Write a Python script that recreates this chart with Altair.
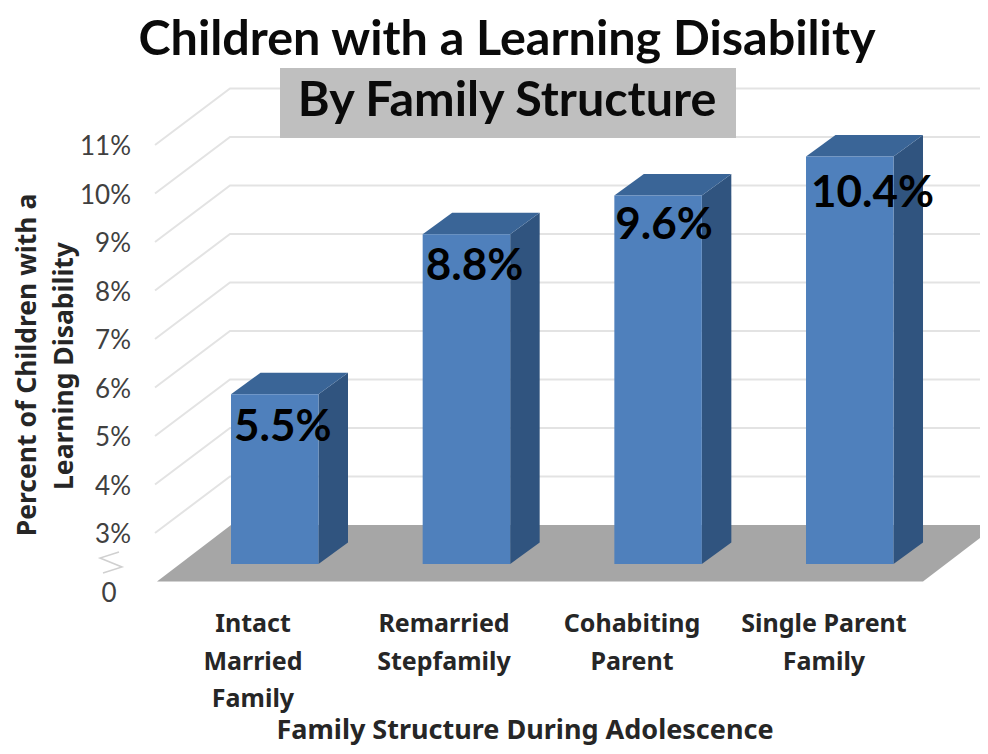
import altair as alt
import pandas as pd

# ---- chart values
categories = ["Intact\nMarried\nFamily", "Remarried\nStepfamily", "Cohabiting\nParent", "Single Parent\nFamily"]
values = [5.5, 8.8, 9.6, 10.4]
value_labels = ["5.5%", "8.8%", "9.6%", "10.4%"]
grid_values = [3, 4, 5, 6, 7, 8, 9, 10, 11]
grid_labels = ["3%", "4%", "5%", "6%", "7%", "8%", "9%", "10%", "11%"]

# ---- pseudo-3D geometry (page pixels)
M = 8
W, H = 972, 738
SLOT = 191.67
PX_PER_PCT = 48.5
FLOOR_Y = 581.5
BASE = 2.0
LABEL_DX = [3, 3, 1, 5]
LABEL_DY = [47, 46, 44, 50]


def X(px):
    return (px - M) / SLOT


def Y(px):
    return BASE + (FLOOR_Y - px) / PX_PER_PCT


xs = alt.Scale(domain=[X(M), X(M + W)], range=[0, W], nice=False, zero=False)
ys = alt.Scale(domain=[Y(M + H), Y(M)], range=[H, 0], nice=False, zero=False)
xe = alt.X("x:Q", scale=xs, axis=None)
ye = alt.Y("y:Q", scale=ys, axis=None)

WALL_FRONT, WALL_BACK, RIGHT_END = X(155), X(230), X(988)
FLOOR_DEPTH = 56.5 / PX_PER_PCT
FLOOR_DX = 74 / SLOT
BAR_LEFT = X(231)
BAR_W = 87.5 / SLOT
BAR_DX = 29.5 / SLOT
BAR_LIFT = 17.5 / PX_PER_PCT
BAR_DY = 21.5 / PX_PER_PCT

# grid lines on the side and back walls
grid_rows = []
for v in grid_values:
    grid_rows += [
        {"x": WALL_FRONT, "y": v, "g": v},
        {"x": WALL_BACK, "y": v + FLOOR_DEPTH, "g": v},
        {"x": RIGHT_END, "y": v + FLOOR_DEPTH, "g": v},
    ]
grid = alt.Chart(pd.DataFrame(grid_rows)).mark_line(color="#e3e3e3", strokeWidth=2, clip=True).encode(
    x=xe, y=ye, detail="g:N"
)

# floor
fl, fr = X(157), X(923)
floor_df = pd.DataFrame([
    {"x": fl, "y": BASE, "y2": BASE},
    {"x": fl + FLOOR_DX, "y": BASE, "y2": BASE + FLOOR_DEPTH},
    {"x": fr, "y": BASE, "y2": BASE + FLOOR_DEPTH},
    {"x": fr + FLOOR_DX, "y": BASE + FLOOR_DEPTH, "y2": BASE + FLOOR_DEPTH},
])
floor = alt.Chart(floor_df).mark_area(color="#a6a6a6", opacity=1, clip=True).encode(x=xe, y=ye, y2="y2:Q")

# bars
front_rows, side_rows, top_rows, lab_rows = [], [], [], []
for i, v in enumerate(values):
    l = BAR_LEFT + i
    r = l + BAR_W
    b = BASE + BAR_LIFT
    t = v + BAR_LIFT
    front_rows.append({"x": l, "x2": r, "y": b, "y2": t})
    side_rows += [
        {"x": r, "y": b, "y2": t, "c": i},
        {"x": r + BAR_DX, "y": b + BAR_DY, "y2": t + BAR_DY, "c": i},
    ]
    top_rows += [
        {"x": l, "y": t, "y2": t, "c": i},
        {"x": l + BAR_DX, "y": t, "y2": t + BAR_DY, "c": i},
        {"x": r, "y": t, "y2": t + BAR_DY, "c": i},
        {"x": r + BAR_DX, "y": t + BAR_DY, "y2": t + BAR_DY, "c": i},
    ]
    lab_rows.append({"x": l + LABEL_DX[i] / SLOT, "y": t - LABEL_DY[i] / PX_PER_PCT, "t": value_labels[i]})

front = alt.Chart(pd.DataFrame(front_rows)).mark_rect(color="#4f80bc").encode(
    x=xe, x2="x2:Q", y=ye, y2="y2:Q"
)
side = alt.Chart(pd.DataFrame(side_rows)).mark_area(color="#30547f", opacity=1).encode(
    x=xe, y=ye, y2="y2:Q", detail="c:N"
)
top = alt.Chart(pd.DataFrame(top_rows)).mark_area(color="#3a6597", opacity=1).encode(
    x=xe, y=ye, y2="y2:Q", detail="c:N"
)
bar_labels = alt.Chart(pd.DataFrame(lab_rows)).mark_text(
    font="Lato", fontWeight="bold", fontSize=44, color="#000000", align="left", baseline="alphabetic"
).encode(x=xe, y=ye, text="t:N")

# value-axis labels
tick_df = pd.DataFrame({"x": [X(131)] * len(grid_values), "y": grid_values, "t": grid_labels})
ticks = alt.Chart(tick_df).mark_text(
    font="Lato", fontSize=26, color="#404040", align="right", baseline="middle", dy=2
).encode(x=xe, y=ye, text="t:N")
zero = alt.Chart(pd.DataFrame({"x": [X(109)], "y": [Y(594)], "t": ["0"]})).mark_text(
    font="Lato", fontSize=26, color="#404040", align="center", baseline="middle"
).encode(x=xe, y=ye, text="t:N")
brk_df = pd.DataFrame({
    "x": [X(119), X(100), X(122), X(103)],
    "y": [Y(552), Y(558), Y(567), Y(573)],
    "o": [0, 1, 2, 3],
})
axis_break = alt.Chart(brk_df).mark_line(color="#d0d0d0", strokeWidth=1.5).encode(
    x=alt.X("x:Q", scale=xs, axis=None, sort=None), y=ye, order="o:Q"
)

# category labels
cat_df = pd.DataFrame({"x": [X(253), X(444), X(632), X(824)], "y": [Y(632)] * 4, "t": categories})
cats = alt.Chart(cat_df).mark_text(
    font="Noto Sans", fontWeight="bold", fontSize=25, color="#262626", align="center",
    baseline="alphabetic", lineBreak="\n", lineHeight=37.5,
).encode(x=xe, y=ye, text="t:N")

x_title = alt.Chart(pd.DataFrame({"x": [X(525)], "y": [Y(739)], "t": ["Family Structure During Adolescence"]})).mark_text(
    font="Noto Sans", fontWeight="bold", fontSize=27, color="#262626", align="center", baseline="alphabetic"
).encode(x=xe, y=ye, text="t:N")

y_title = alt.Chart(pd.DataFrame({
    "x": [X(36), X(73)], "y": [Y(365), Y(366)],
    "t": ["Percent of Children with a", "Learning Disability"],
})).mark_text(
    font="Noto Sans", fontWeight="bold", fontSize=26.5, color="#262626", align="center",
    baseline="alphabetic", angle=270,
).encode(x=xe, y=ye, text="t:N")

# title and grey sub-title box
title_box = alt.Chart(pd.DataFrame({"x": [X(280)], "x2": [X(736)], "y": [Y(68)], "y2": [Y(138)]})).mark_rect(
    color="#bfbfbf"
).encode(x=xe, x2="x2:Q", y=ye, y2="y2:Q")
title_df = pd.DataFrame({
    "x": [X(507), X(507)], "y": [Y(55), Y(116)],
    "t": ["Children with a Learning Disability", "By Family Structure"],
})
titles = alt.Chart(title_df).mark_text(
    font="Lato", fontWeight="bold", fontSize=48.5, color="#0a0a0a", align="center", baseline="alphabetic"
).encode(x=xe, y=ye, text="t:N")

chart = alt.layer(
    grid, floor, side, top, front, bar_labels, ticks, zero, axis_break, cats,
    x_title, y_title, title_box, titles,
).properties(
    width=W, height=H, padding=0, autosize=alt.AutoSizeParams(type="none"), background="#ffffff"
).configure_view(stroke=None)

chart.save("out.html", embed_options={"renderer": "svg", "actions": False})
